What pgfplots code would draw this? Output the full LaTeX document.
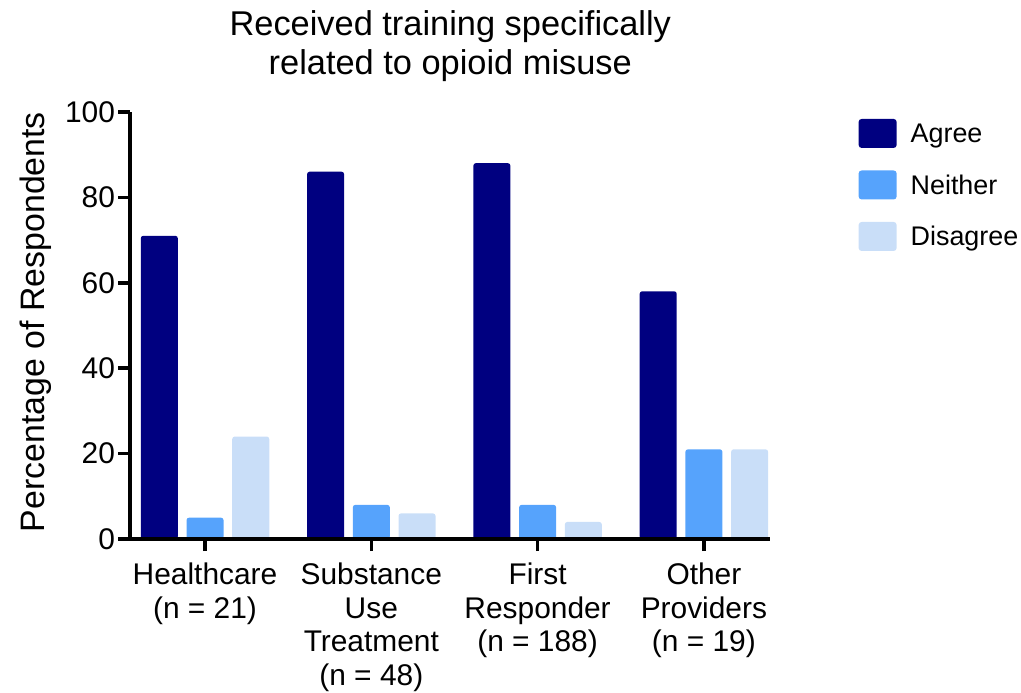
\documentclass[border=0pt]{standalone}
\usepackage{pgfplots}
\pgfplotsset{compat=1.18}
\usepackage{fontspec}
\setmainfont{Liberation Sans}
\definecolor{agree}{RGB}{0,0,128}
\definecolor{neither}{RGB}{86,163,252}
\definecolor{disagree}{RGB}{201,222,248}
\begin{document}
\begin{tikzpicture}
\begin{axis}[
  scale only axis,
  width=640bp, height=427bp,
  xmin=-0.45, xmax=3.40,
  ymin=0, ymax=100,
  clip=false,
  axis on top,
  axis x line*=bottom,
  axis y line*=left,
  axis line style={line width=3.5bp, black},
  tick style={line width=3.5bp, black},
  major tick length=12bp,
  tick align=outside,
  xtick={0,1,2,3},
  xticklabels={{Healthcare\\(n = 21)},{Substance\\Use\\Treatment\\(n = 48)},{First\\Responder\\(n = 188)},{Other\\Providers\\(n = 19)}},
  xticklabel style={align=center, font=\fontsize{30}{33.5}\selectfont, inner sep=0pt, yshift=-12bp},
  ytick={0,20,40,60,80,100},
  /pgf/number format/assume math mode=true,
  yticklabel style={font=\fontsize{30}{35}\selectfont, inner sep=0pt, xshift=-3bp},
  ylabel={Percentage of Respondents},
  ylabel style={font=\fontsize{34}{40}\selectfont, at={(axis description cs:-0.148,0.508)}, anchor=center},
  title={Received training specifically\\related to opioid misuse},
  title style={font=\fontsize{34.5}{39}\selectfont, align=center, at={(axis description cs:0.5,1)}, anchor=south, inner sep=0pt, yshift=24bp},
  legend style={at={(rel axis cs:1.1375,0.984)}, anchor=north west, draw=none, fill=none, inner sep=0pt,
    font=\fontsize{27}{30}\selectfont, row sep=22.5bp,
    nodes={inner sep=0pt, anchor=west}},
  legend cell align=left,
  legend image code/.code={\fill[#1, rounded corners=3bp] (0bp,-14bp) rectangle (38bp,15bp);},
]
\addplot[fill=agree, draw=none, rounded corners=2.5bp, ybar, bar width=37bp, bar shift=-45.7bp] coordinates {(0,71) (1,86) (2,88) (3,58)};
\addlegendentry{\hspace{14bp}Agree}
\addplot[fill=neither, draw=none, rounded corners=2.5bp, ybar, bar width=37bp, bar shift=0bp] coordinates {(0,5) (1,8) (2,8) (3,21)};
\addlegendentry{\hspace{14bp}Neither}
\addplot[fill=disagree, draw=none, rounded corners=2.5bp, ybar, bar width=37bp, bar shift=45.7bp] coordinates {(0,24) (1,6) (2,4) (3,21)};
\addlegendentry{\hspace{14bp}Disagree}
\path (axis cs:-1.233,-35.83) rectangle (axis cs:4.907,126.2);
\end{axis}
\end{tikzpicture}
\end{document}
